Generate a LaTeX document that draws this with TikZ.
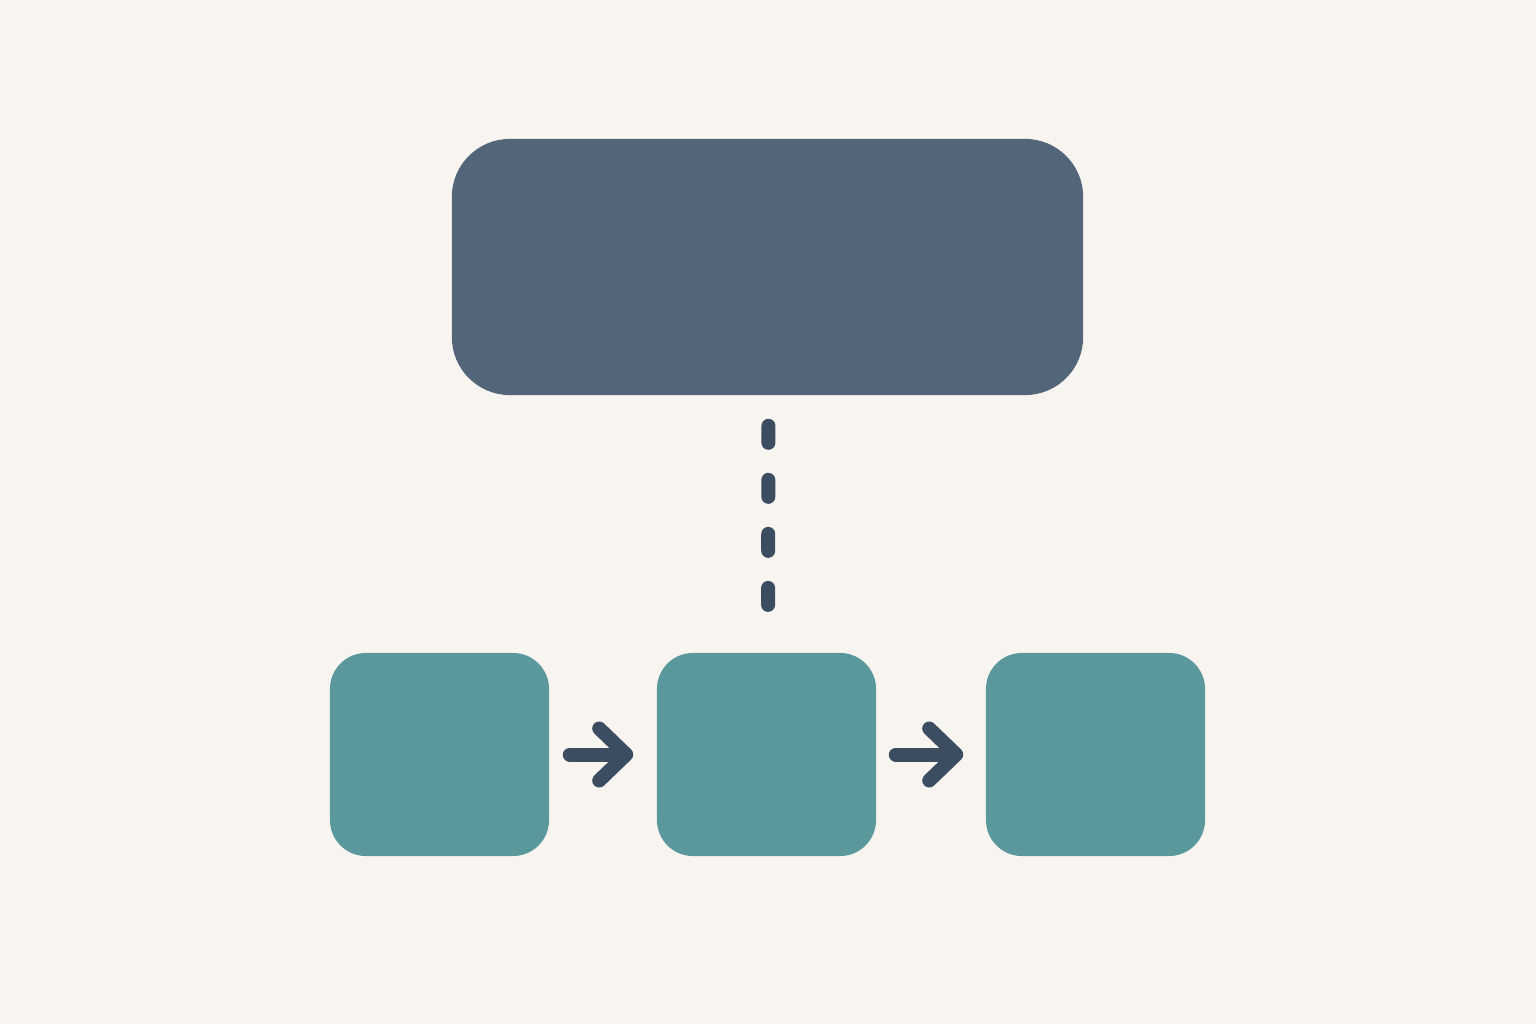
\documentclass[tikz,border=0pt]{standalone}
\usetikzlibrary{arrows.meta}
\definecolor{bgc}{HTML}{F8F5F1}
\definecolor{topc}{HTML}{526579}
\definecolor{tealc}{HTML}{5B989C}
\definecolor{linec}{HTML}{3C4C61}
\tikzset{
  topbox/.style={rectangle, rounded corners=0.58cm, fill=topc, draw=none, minimum width=6.31cm, minimum height=2.56cm, inner sep=0pt},
  smallbox/.style={rectangle, rounded corners=0.36cm, fill=tealc, draw=none, minimum width=2.19cm, minimum height=2.03cm, inner sep=0pt},
  dashline/.style={draw=linec, line width=1.4mm, line cap=round, dash pattern=on 1.7mm off 3.7mm},
  flowarrow/.style={draw=linec, line width=1.4mm, line cap=round, line join=round, -{Straight Barb[length=2.7mm, width=5.2mm, line cap=round, line join=round]}}
}
\begin{document}
\begin{tikzpicture}[x=0.01cm, y=-0.01cm]
  \fill[bgc] (0,0) rectangle (1536,1024);
  \useasboundingbox (0,0) rectangle (1536,1024);
  \node[topbox] (top) at (767.5,267) {};
  \node[smallbox] (b1) at (439.5,754.5) {};
  \node[smallbox] (b2) at (766.5,754.5) {};
  \node[smallbox] (b3) at (1095.5,754.5) {};
  \draw[dashline, shorten <=0.30cm, shorten >=0.47cm] ([xshift=0.01cm]top.south) -- ([xshift=0.015cm]b2.north);
  \draw[flowarrow] ([xshift=0.20cm]b1.east) -- ([xshift=-0.23cm]b2.west);
  \draw[flowarrow] ([xshift=0.19cm]b2.east) -- ([xshift=-0.22cm]b3.west);
\end{tikzpicture}
\end{document}
